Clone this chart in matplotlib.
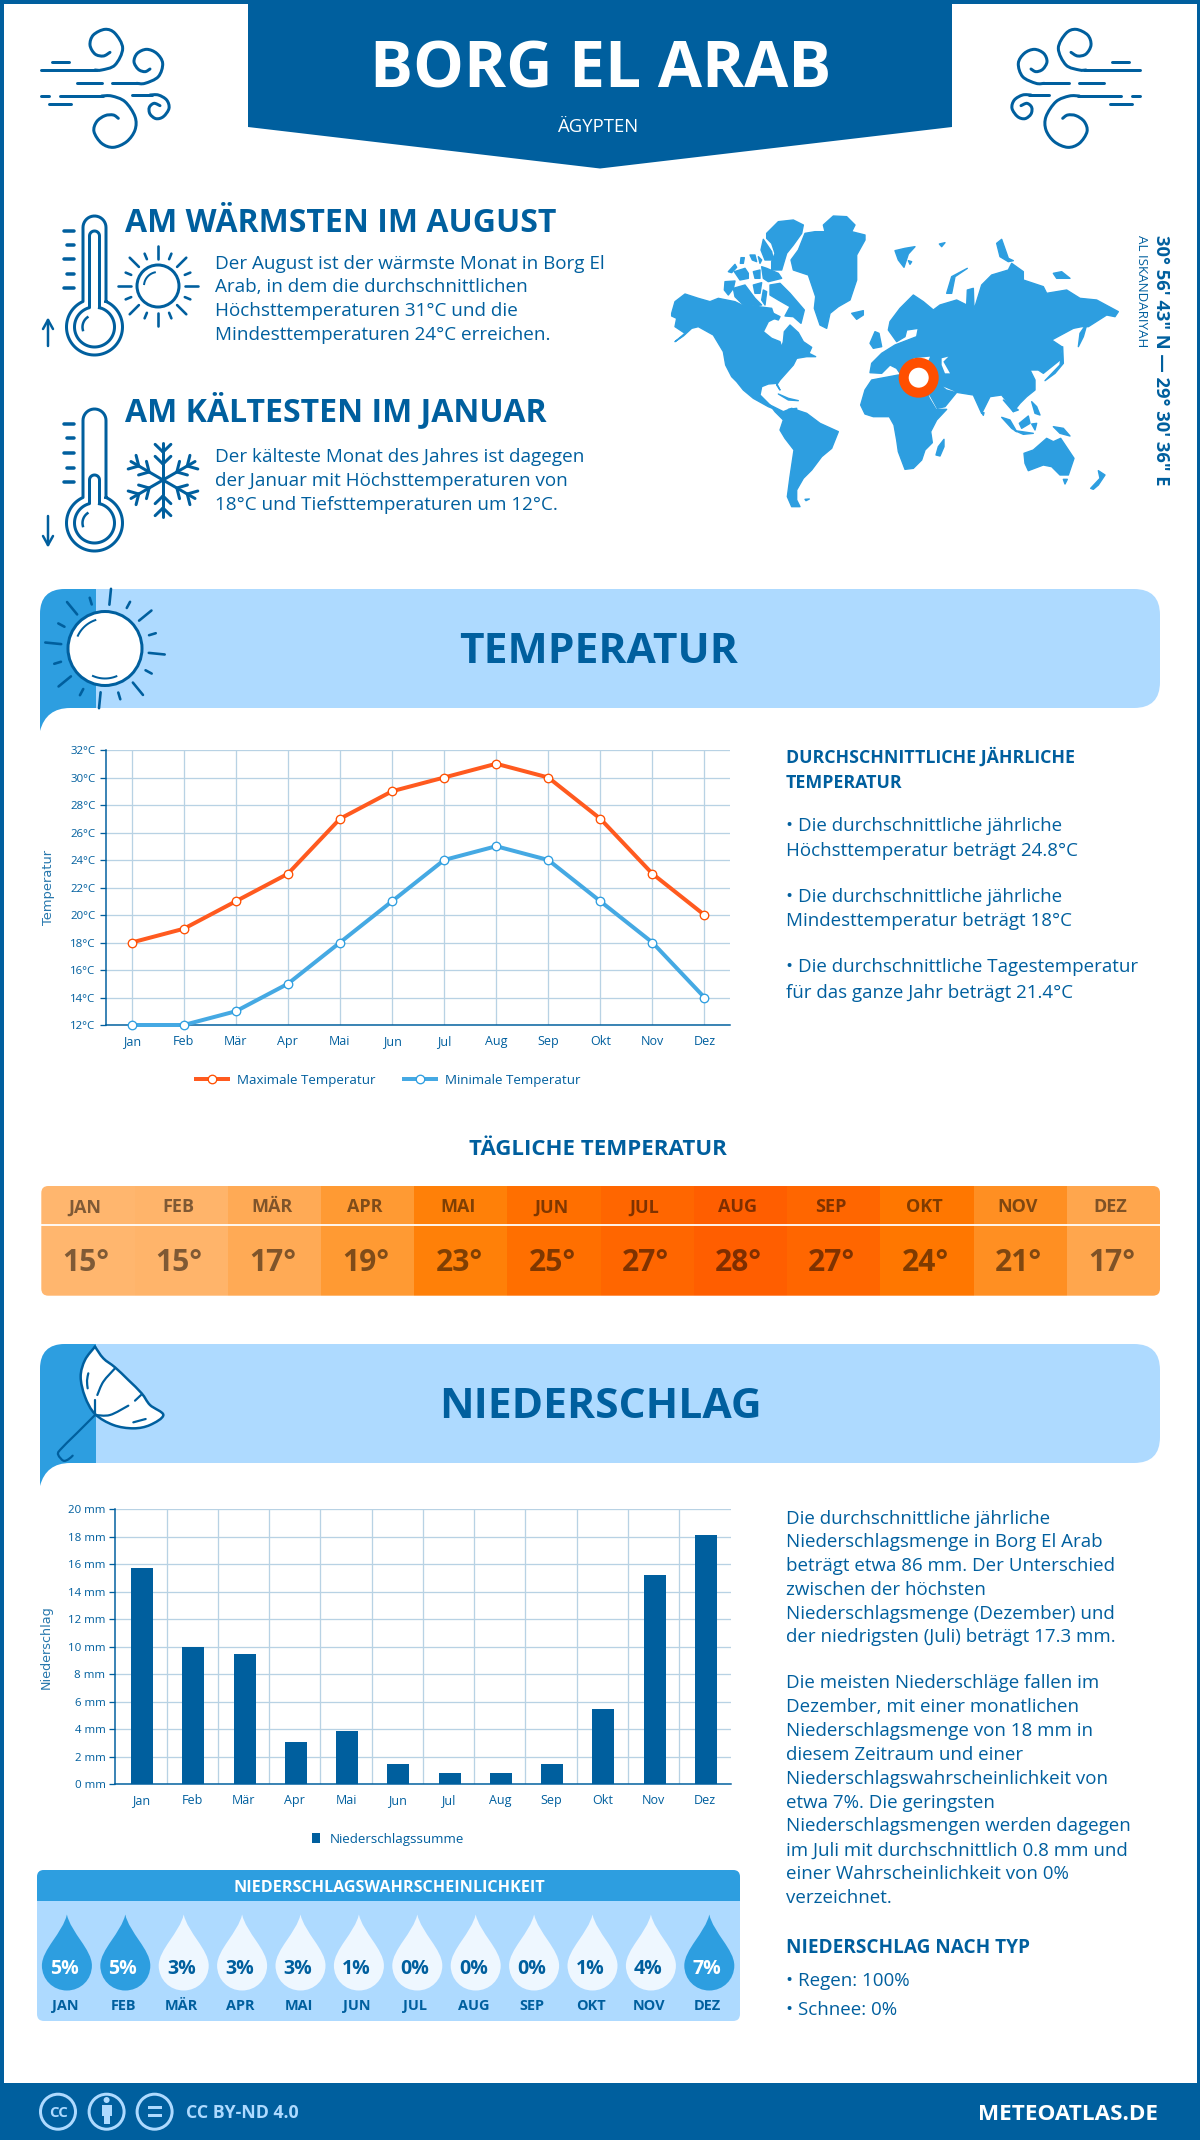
import numpy as np
import matplotlib
matplotlib.use('Agg')
import matplotlib.pyplot as plt
from matplotlib.patches import Circle, FancyBboxPatch, PathPatch, Polygon, Rectangle
from matplotlib.path import Path
from matplotlib.transforms import ScaledTranslation

plt.rcParams['font.family'] = ['Open Sans', 'DejaVu Sans']

# data
months = ['Jan', 'Feb', 'Mär', 'Apr', 'Mai', 'Jun', 'Jul', 'Aug', 'Sep', 'Okt', 'Nov', 'Dez']
months_upper = ['JAN', 'FEB', 'MÄR', 'APR', 'MAI', 'JUN', 'JUL', 'AUG', 'SEP', 'OKT', 'NOV', 'DEZ']
temp_max = [18, 19, 21, 23, 27, 29, 30, 31, 30, 27, 23, 20]
temp_min = [12, 12, 13, 15, 18, 21, 24, 25, 24, 21, 18, 14]
temp_daily = [15, 15, 17, 19, 23, 25, 27, 28, 27, 24, 21, 17]
temp_colors = ['#FFB66E', '#FFB46A', '#FFAA55', '#FF9A33', '#FF8008', '#FF6F00',
               '#FF6600', '#FF5E00', '#FF6600', '#FF7700', '#FF8F22', '#FFA64D']
rain = [15.7, 10.0, 9.5, 3.1, 3.9, 1.5, 0.8, 0.8, 1.5, 5.5, 15.2, 18.1]
rain_prob = [5, 5, 3, 3, 3, 1, 0, 0, 0, 1, 4, 7]

DARK = '#005F9E'
MID = '#2D9EE0'
LIGHT = '#AEDAFF'
GRID = '#B8D2E4'
ORANGE = '#FF4F00'


def fs(p):
    return p * 0.72


fig = plt.figure(figsize=(12, 21.4), dpi=100)
page = fig.add_axes([0, 0, 1, 1])
page.set_xlim(0, 1200)
page.set_ylim(2140, 0)
page.axis('off')


def inset(x0, y0, x1, y1):
    return fig.add_axes([x0 / 1200, 1 - y1 / 2140, (x1 - x0) / 1200, (y1 - y0) / 2140])


def txt(x, y, s, size, color=DARK, weight='normal', ha='left', va='center', **kw):
    return page.text(x, y, s, fontsize=fs(size), color=color, fontweight=weight, ha=ha, va=va, **kw)


def smooth(pts, lw=3, color=DARK, fill='none', z=3):
    # catmull-rom through the points
    pts = np.array(pts, float)
    p = np.vstack([pts[0], pts, pts[-1]])
    verts = [pts[0]]
    codes = [Path.MOVETO]
    for i in range(1, len(p) - 2):
        verts += [p[i] + (p[i + 1] - p[i - 1]) / 6, p[i + 1] - (p[i + 2] - p[i]) / 6, p[i + 1]]
        codes += [Path.CURVE4] * 3
    page.add_patch(PathPatch(Path(verts, codes), fc=fill, ec=color, lw=fs(lw), capstyle='round', zorder=z))


def line(x0, y0, x1, y1, lw=3, color=DARK, z=3):
    page.plot([x0, x1], [y0, y1], color=color, lw=fs(lw), solid_capstyle='round', zorder=z)


def shift_labels(axis, dx):
    for lab in axis.get_ticklabels():
        lab.set_transform(lab.get_transform() + ScaledTranslation(dx / 100, 0, fig.dpi_scale_trans))


# frame, header, footer
page.add_patch(Rectangle((0, 0), 1200, 2140, fc='none', ec=DARK, lw=fs(7)))
page.add_patch(Polygon([(248, 0), (952, 0), (952, 127), (600, 168.5), (248, 127)], fc=DARK, ec='none'))
page.add_patch(Rectangle((0, 2083), 1200, 57, fc=DARK, ec='none'))
txt(601, 88, 'BORG EL ARAB', 64, 'white', 'bold', ha='center', va='baseline')
txt(598, 132, 'ÄGYPTEN', 18.5, 'white', ha='center', va='baseline')

wind_curves = [
    [(195, 150), (215, 150), (255, 135), (278, 85), (255, 40), (225, 28), (190, 45), (180, 75), (195, 102), (220, 108), (240, 97)],
    [(320, 190), (345, 190), (385, 170), (398, 130), (380, 100), (350, 88), (322, 100), (312, 125), (325, 148), (345, 155), (360, 147)],
    [(215, 228), (245, 228), (285, 245), (315, 290), (315, 330), (290, 365), (250, 382), (215, 370), (192, 335), (200, 305), (225, 287), (250, 285), (265, 295)],
    [(360, 225), (385, 225), (410, 240), (417, 265), (400, 290), (378, 296), (360, 282), (358, 262), (372, 250), (390, 257)],
]
wind_lines = [(32, 150, 200, 150), (67, 125, 118, 125), (140, 190, 215, 190), (247, 190, 325, 190), (32, 228, 58, 228),
              (90, 228, 220, 228), (57, 253, 122, 253), (306, 225, 365, 225)]
for flip in (False, True):
    def fx(v):
        r = 30 + v / 3
        return 1181 - r if flip else r
    for c in wind_curves:
        smooth([(fx(a), 20 + b / 3) for a, b in c])
    for a, b, c, d in wind_lines:
        line(fx(a), 20 + b / 3, fx(c), 20 + d / 3)


# thermometers
def thermometer(top, cy, ticks, inner_top, arrow):
    for rad, half, t in [(28, 11.5, top), (20, 5, inner_top)]:
        a = np.arcsin(half / rad)
        th = np.linspace(np.pi / 2 - a, -3 * np.pi / 2 + a, 80)
        bx = 94.5 + rad * np.cos(th)
        by = cy - rad * np.sin(th)
        cap = np.linspace(np.pi, 0, 20)
        tx = 94.5 + half * np.cos(cap)
        ty = t + half - half * np.sin(cap)
        page.plot(np.r_[bx, tx, bx[0]], np.r_[by, ty, by[0]], color=DARK, lw=fs(3))
    a = np.linspace(2.2, 3.4, 15)
    page.plot(94.5 + 12 * np.cos(a), cy - 12 * np.sin(a), color=DARK, lw=fs(2.5))
    for i, y in enumerate(ticks):
        line(67 if i % 2 else 64, y, 74, y, 3.5)
    a0, a1 = arrow
    d = 6 if a1 < a0 else -6
    line(48, a0, 48, a1, 2.5)
    line(48, a1, 43, a1 + d * 1.5, 2.5)
    line(48, a1, 53, a1 + d * 1.5, 2.5)


thermometer(216, 327, [231, 245, 259, 273.5, 287.5], 231, (346, 320))
thermometer(409, 523, [423.5, 438, 453, 467.5, 482], 475, (516, 545))

# sun icon next to the first text
page.add_patch(Circle((158, 286), 21, fc='white', ec=DARK, lw=fs(3)))
a = np.linspace(1.8, 3.0, 15)
page.plot(158 + 14 * np.cos(a), 286 - 14 * np.sin(a), color=DARK, lw=fs(2))
for i, a in enumerate(np.linspace(0, 2 * np.pi, 16, endpoint=False)):
    r0, r1 = (27, 40) if i % 2 == 0 else (29, 35)
    line(158 + r0 * np.cos(a), 286 + r0 * np.sin(a), 158 + r1 * np.cos(a), 286 + r1 * np.sin(a), 2.6)

# snowflake
for a in np.radians([90, 30, 150, 210, 270, 330]):
    cx, cy = 163, 480
    ux, uy = np.cos(a), np.sin(a)
    line(cx, cy, cx + 37 * ux, cy + 37 * uy, 3)
    for d in (16, 28):
        for s in (0.8, -0.8):
            bx = ux * np.cos(s) - uy * np.sin(s)
            by = ux * np.sin(s) + uy * np.cos(s)
            line(cx + d * ux, cy + d * uy, cx + d * ux + 11 * bx, cy + d * uy + 11 * by, 3)

# top texts
txt(125, 232, 'AM WÄRMSTEN IM AUGUST', 32, DARK, 'bold', va='baseline')
for y, s in zip([264, 287.5, 311.5, 335.5],
                ['Der August ist der wärmste Monat in Borg El', 'Arab, in dem die durchschnittlichen',
                 'Höchsttemperaturen 31°C und die', 'Mindesttemperaturen 24°C erreichen.']):
    txt(215, y, s, 18.9)
txt(125, 421, 'AM KÄLTESTEN IM JANUAR', 32, DARK, 'bold', va='baseline')
for y, s in zip([457.5, 481.5, 505],
                ['Der kälteste Monat des Jahres ist dagegen', 'der Januar mit Höchsttemperaturen von',
                 '18°C und Tiefsttemperaturen um 12°C.']):
    txt(215, y, s, 18.9)

# world map, outlines traced by eye from 3x crops: (origin x, origin y, polygons)
map_north = (665, 210, [
    [(20, 310), (30, 275), (60, 252), (100, 265), (135, 275), (160, 265), (210, 275), (240, 290), (280, 290), (320, 295), (330, 325),
     (310, 335), (295, 365), (320, 385), (345, 395), (350, 412), (355, 395), (358, 365), (375, 345), (400, 368), (415, 395), (440, 412),
     (432, 430), (452, 440), (425, 440), (395, 445), (385, 465), (345, 510), (335, 525), (345, 540), (335, 520), (310, 522), (290, 530),
     (285, 555), (300, 570), (320, 590), (335, 600), (310, 590), (265, 565), (235, 540), (215, 515), (200, 500), (182, 465), (175, 425),
     (145, 375), (100, 350), (80, 355), (55, 378), (30, 395), (60, 370), (30, 350), (35, 325), (20, 318)],
    [(305, 70), (340, 35), (385, 30), (415, 45), (410, 70), (385, 105), (365, 130), (350, 180), (320, 180), (320, 155), (330, 130), (320, 100), (305, 85)],
    [(288, 120), (295, 88), (320, 125), (325, 150), (300, 150)],
    [(378, 150), (400, 120), (420, 70), (450, 65), (480, 65), (475, 45), (505, 18), (545, 20), (570, 45), (560, 65), (600, 75), (600, 90),
     (575, 135), (575, 210), (555, 270), (520, 290), (495, 310), (485, 355), (465, 345), (448, 295), (452, 260), (430, 195), (385, 180)],
    [(560, 310), (595, 302), (595, 315), (575, 328)],
    [(190, 185), (210, 163), (215, 172), (200, 188)],
    [(228, 143), (238, 143), (235, 160), (226, 160)],
    [(208, 185), (240, 175), (250, 190), (250, 205), (225, 210)],
    [(255, 135), (270, 135), (275, 155), (262, 150)],
    [(280, 140), (290, 150), (285, 160)],
    [(265, 185), (285, 180), (285, 205), (270, 205)],
    [(290, 170), (305, 175), (340, 190), (350, 205), (310, 215), (295, 205)],
    [(180, 215), (210, 213), (205, 235), (190, 255), (178, 240)],
    [(205, 235), (240, 225), (270, 265), (290, 285), (240, 290), (210, 260)],
    [(265, 225), (290, 218), (285, 250), (270, 250)],
    [(295, 240), (305, 245), (300, 285), (290, 270)],
    [(315, 225), (345, 220), (375, 250), (418, 300), (408, 340), (385, 320), (360, 318), (375, 290), (340, 270), (315, 255)],
    [(325, 310), (345, 320), (340, 330), (325, 325)],
    [(340, 552), (370, 565), (400, 572), (370, 570)],
    [(370, 598), (395, 595), (395, 600)],
    [(615, 400), (630, 365), (642, 370), (650, 410), (625, 415)],
])
map_asia = (880, 230, [
    [(-25, 400), (5, 370), (45, 345), (110, 320), (115, 295), (80, 300), (75, 320), (50, 335), (25, 300), (30, 275), (60, 235), (100, 195),
     (130, 215), (160, 240), (180, 225), (230, 210), (260, 225), (262, 180), (280, 175), (282, 240), (305, 165), (335, 135), (385, 120),
     (395, 100), (430, 125), (430, 150), (490, 170), (500, 190), (560, 180), (600, 205), (650, 210), (715, 245), (705, 260), (680, 255),
     (625, 290), (605, 290), (580, 295), (515, 330), (545, 350), (540, 390), (490, 430), (475, 420), (450, 420), (465, 450), (465, 480),
     (440, 500), (420, 520), (400, 545), (385, 520), (365, 495), (330, 500), (305, 550), (280, 495), (230, 487), (195, 530), (172, 535),
     (150, 495), (90, 475), (50, 415), (30, 405), (5, 430), (-30, 428)],
    [(45, 62), (75, 55), (105, 50), (85, 72), (72, 112), (55, 90)],
    [(85, 92), (95, 95), (90, 103)],
    [(178, 42), (195, 38), (185, 50)],
    [(200, 190), (215, 140), (262, 115), (225, 140), (215, 190)],
    [(350, 40), (365, 28), (385, 85), (400, 92), (385, 95), (360, 80)],
    [(595, 350), (600, 310), (622, 278), (610, 320)],
    [(495, 452), (540, 405), (548, 350), (550, 400), (525, 430)],
    [(520, 130), (545, 125), (570, 145), (530, 145)],
    [(305, 548), (312, 548), (310, 556)],
])
map_south = (770, 400, [
    [(272, 15), (285, -30), (305, -60), (385, -75), (450, -75), (478, -5), (498, 28), (530, 28), (500, 60), (482, 95), (487, 128), (465, 150),
     (455, 180), (430, 205), (405, 208), (385, 155), (380, 120), (372, 75), (358, 50), (310, 50), (285, 42)],
    [(498, 165), (505, 140), (522, 118), (522, 140), (510, 168)],
    [(0, 15), (40, 35), (65, 25), (110, 40), (150, 70), (205, 95), (185, 145), (155, 170), (125, 210), (100, 235), (80, 270), (80, 300),
     (90, 320), (65, 320), (52, 290), (60, 230), (72, 150), (45, 115), (30, 90), (40, 60), (15, 35)],
    [(105, 298), (118, 297), (108, 302)],
    [(700, 0), (745, 30), (730, 35)],
    [(695, 52), (720, 60), (740, 95), (725, 85)],
    [(735, 92), (790, 100), (760, 103)],
    [(748, 70), (775, 48), (780, 70), (755, 85)],
    [(785, 72), (800, 70), (795, 90)],
    [(850, 80), (880, 85), (900, 108), (870, 100)],
    [(785, 5), (800, 20), (810, 45), (795, 40)],
    [(762, 160), (790, 150), (830, 115), (850, 125), (872, 115), (912, 175), (895, 225), (870, 225), (845, 200), (820, 195), (775, 212), (765, 190)],
    [(880, 238), (892, 238), (885, 252)],
    [(962, 265), (990, 235), (985, 212), (1005, 225), (985, 255), (970, 268)],
])
for ox, oy, polys in (map_north, map_asia, map_south):
    for poly in polys:
        page.add_patch(Polygon([(ox + a / 3, oy + b / 3) for a, b in poly], fc=MID, ec=MID, lw=1, joinstyle='round', zorder=1))
# inland seas
for poly in [[(185, 385), (205, 380), (190, 395), (210, 430), (195, 430), (185, 405)], [(190, 470), (225, 485), (200, 478)],
             [(100, 385), (150, 380), (145, 392), (110, 395)]]:
    page.add_patch(Polygon([(880 + a / 3, 230 + b / 3) for a, b in poly], fc='white', ec='none', zorder=1.5))
page.add_patch(Circle((918.7, 377.7), 15, fc='white', ec=ORANGE, lw=fs(10), zorder=2))
txt(1161, 360, '30° 56\' 43" N — 29° 30\' 36" E', 18.4, DARK, 'bold', ha='center', rotation=-90)
txt(1142, 291.5, 'AL ISKANDARIYAH', 13.4, ha='center', rotation=-90)


# section banners
def banner(y0, y1, title, tx, base):
    page.add_patch(FancyBboxPatch((40, y0), 1120, y1 - y0, boxstyle='round,pad=0,rounding_size=26', fc=LIGHT, ec='none'))
    v = [(40, y1 + 23), (40, y0 + 25), (40, y0), (65, y0), (96, y0), (96, y1), (70, y1), (46, y1), (40, y1 + 23)]
    c = [Path.MOVETO, Path.LINETO, Path.CURVE3, Path.CURVE3, Path.LINETO, Path.LINETO, Path.LINETO, Path.CURVE3, Path.CURVE3]
    page.add_patch(PathPatch(Path(v, c), fc=MID, ec='none'))
    txt(tx, base, title, 42.5, DARK, 'bold', ha='center', va='baseline')


banner(589, 708, 'TEMPERATUR', 598.5, 663)
banner(1344, 1463, 'NIEDERSCHLAG', 600, 1418.5)

# big sun
page.add_patch(Circle((105, 648.5), 37, fc='white', ec=DARK, lw=fs(3), zorder=3))
for a in (np.linspace(1.9, 2.7, 15), np.linspace(4.3, 5.1, 15)):
    page.plot(105 + 30 * np.cos(a), 648.5 - 30 * np.sin(a), color=DARK, lw=fs(2), zorder=4)
for i, a in enumerate(np.linspace(0.1, 2 * np.pi + 0.1, 16, endpoint=False)):
    r0, r1 = (44, 60) if i % 2 == 0 else (46, 53)
    line(105 + r0 * np.cos(a), 648.5 + r0 * np.sin(a), 105 + r1 * np.cos(a), 648.5 + r1 * np.sin(a), 2.6)


def um(pts):
    return [(40 + a / 3, 1340 + b / 3) for a, b in pts]


canopy = [(165, 20), (190, 55), (225, 82), (265, 120), (305, 160), (330, 195), (370, 225), (330, 255), (280, 265), (220, 255), (165, 222),
          (135, 170), (122, 110), (135, 60), (165, 20)]
smooth(um(canopy), 2.5, fill='white')
smooth(um([(225, 85), (190, 125), (172, 165)]), 2.2)
smooth(um([(165, 180), (165, 222)]), 2.2)
smooth(um([(145, 100), (141, 122), (143, 145)]), 2.2)
smooth(um([(165, 225), (210, 225), (265, 197)]), 2.2)
smooth(um([(285, 182), (303, 165)]), 2.2)
smooth(um([(280, 247), (317, 237)]), 2.2)
smooth(um([(165, 225), (110, 280), (60, 330), (55, 345), (70, 362), (85, 358), (98, 347)]), 2.2)

# temperature chart
ax = inset(105.7, 750, 730.5, 1025)
x = np.arange(12)
ax.plot(x, temp_max, color='#FF5A1F', lw=fs(4), marker='o', ms=fs(8.5), mfc='white', mec='#FF4F00', mew=fs(1.3),
        clip_on=False, zorder=5, label='Maximale Temperatur')
ax.plot(x, temp_min, color='#45A9E3', lw=fs(4), marker='o', ms=fs(8.5), mfc='white', mec='#2D9EE0', mew=fs(1.3),
        clip_on=False, zorder=5, label='Minimale Temperatur')
ax.set_xlim(-0.5, 11.5)
ax.set_ylim(12, 32)
ax.set_yticks(np.arange(12, 33, 2))
ax.set_yticklabels([f'{v}°C' for v in range(12, 33, 2)], fontsize=fs(11.5), color=DARK)
ax.set_xticks(x)
ax.set_xticklabels(months, fontsize=fs(12.5), color=DARK)
shift_labels(ax.xaxis, -2.6)
ax.grid(color=GRID, lw=fs(1.3))
ax.set_axisbelow(True)
ax.tick_params(axis='y', length=fs(6), width=fs(1.3), color=DARK, pad=fs(4))
ax.tick_params(axis='x', length=0, pad=fs(10))
for s in ['top', 'right']:
    ax.spines[s].set_visible(False)
for s in ['left', 'bottom']:
    ax.spines[s].set_color(DARK)
    ax.spines[s].set_linewidth(fs(1.5))
ax.set_ylabel('Temperatur', fontsize=fs(13), color=DARK, family='DejaVu Sans', labelpad=fs(15), alpha=0.85)
ax.legend(loc='center', bbox_to_anchor=(0.452, -0.2), ncol=2, frameon=False, fontsize=fs(13.4), labelcolor=DARK,
          handlelength=2.4, columnspacing=2.1, handletextpad=0.65)

# text right of the temperature chart
txt(786, 762.5, 'DURCHSCHNITTLICHE JÄHRLICHE', 17.7, DARK, 'bold', va='baseline')
txt(786, 787.5, 'TEMPERATUR', 17.7, DARK, 'bold', va='baseline')
for y, s in zip([826, 850.5, 896.5, 921.5, 967.5, 992.5],
                ['• Die durchschnittliche jährliche', 'Höchsttemperatur beträgt 24.8°C',
                 '• Die durchschnittliche jährliche', 'Mindesttemperatur beträgt 18°C',
                 '• Die durchschnittliche Tagestemperatur', 'für das ganze Jahr beträgt 21.4°C']):
    txt(786, y, s, 18.75)

# daily temperature strip
txt(598, 1155, 'TÄGLICHE TEMPERATUR', 22.3, DARK, 'bold', ha='center', va='baseline')
strip = inset(41.3, 1186, 1160, 1295.7)
strip.set_xlim(-0.5, 11.5)
strip.set_ylim(0, 1)
strip.axis('off')
clip = FancyBboxPatch((41.3, 1186), 1118.7, 109.7, boxstyle='round,pad=0,rounding_size=7', fc='none', ec='none',
                      transform=page.transData)
page.add_patch(clip)
for b in strip.bar(x, [1] * 12, width=1.0, color=temp_colors, align='center'):
    b.set_clip_path(clip)
strip.axhline(0.645, color='white', lw=fs(1.8))
for i in x:
    strip.text(i - 0.03, 0.805, months_upper[i], fontsize=fs(18), fontweight='bold', color='black', alpha=0.5, ha='center', va='center')
    strip.text(i - 0.02, 0.30, f'{temp_daily[i]}°', fontsize=fs(30), fontweight='bold', color='black', alpha=0.5, ha='center', va='center')

# rain chart
ax2 = inset(115.4, 1509.3, 730.5, 1784.3)
ax2.bar(x + 0.02, rain, width=0.43, color=DARK, zorder=4)
ax2.set_xlim(-0.5, 11.5)
ax2.set_ylim(0, 20)
ax2.set_yticks(np.arange(0, 21, 2))
ax2.set_yticklabels([f'{v} mm' for v in range(0, 21, 2)], fontsize=fs(11.5), color=DARK)
ax2.set_xticks(x)
ax2.set_xticklabels(months, fontsize=fs(12.5), color=DARK)
shift_labels(ax2.xaxis, -2)
ax2.set_xticks(np.arange(0.5, 11.5), minor=True)
ax2.grid(axis='y', color=GRID, lw=fs(1.3))
ax2.grid(axis='x', which='minor', color=GRID, lw=fs(1.3))
ax2.set_axisbelow(True)
ax2.tick_params(axis='y', length=fs(6), width=fs(1.3), color=DARK, pad=fs(4))
ax2.tick_params(axis='x', which='both', length=0, pad=fs(10))
for s in ['top', 'right']:
    ax2.spines[s].set_visible(False)
for s in ['left', 'bottom']:
    ax2.spines[s].set_color(DARK)
    ax2.spines[s].set_linewidth(fs(1.5))
ax2.set_ylabel('Niederschlag', fontsize=fs(12.7), color=DARK, family='DejaVu Sans', labelpad=fs(15), alpha=0.85)
handles = [Rectangle((0, 0), 1, 1, fc=DARK)]
ax2.legend(handles, ['Niederschlagssumme'], loc='center', bbox_to_anchor=(0.443, -0.2), frameon=False, fontsize=fs(13.4),
           labelcolor=DARK, handlelength=0.6, handleheight=0.8, handletextpad=0.7)

# text right of the rain chart
para = ['Die durchschnittliche jährliche', 'Niederschlagsmenge in Borg El Arab', 'beträgt etwa 86 mm. Der Unterschied',
        'zwischen der höchsten', 'Niederschlagsmenge (Dezember) und', 'der niedrigsten (Juli) beträgt 17.3 mm.']
for i, s in enumerate(para):
    txt(786, 1518.5 + i * 23.8, s, 18.75)
para = ['Die meisten Niederschläge fallen im', 'Dezember, mit einer monatlichen', 'Niederschlagsmenge von 18 mm in',
        'diesem Zeitraum und einer', 'Niederschlagswahrscheinlichkeit von', 'etwa 7%. Die geringsten',
        'Niederschlagsmengen werden dagegen', 'im Juli mit durchschnittlich 0.8 mm und', 'einer Wahrscheinlichkeit von 0%',
        'verzeichnet.']
for i, s in enumerate(para):
    txt(786, 1683 + i * 23.9, s, 18.75)
txt(786, 1953, 'NIEDERSCHLAG NACH TYP', 19, DARK, 'bold', va='baseline')
txt(786, 1981.5, '• Regen: 100%', 18.75)
txt(786, 2010, '• Schnee: 0%', 18.75)

# probability panel
page.add_patch(FancyBboxPatch((37, 1870), 703, 151, boxstyle='round,pad=0,rounding_size=7', fc=LIGHT, ec='none'))
page.add_patch(FancyBboxPatch((37, 1870), 703, 60, boxstyle='round,pad=0,rounding_size=7', fc=MID, ec='none'))
page.add_patch(Rectangle((37, 1901), 703, 32, fc=LIGHT, ec='none'))
txt(389, 1892.5, 'NIEDERSCHLAGSWAHRSCHEINLICHKEIT', 16.1, 'white', 'bold', ha='center', va='baseline')
for i, p in enumerate(rain_prob):
    cx = 66.9 + i * 58.4
    cy = 1965.5
    v = [(0, -51), (4, -33), (25, -16), (25, 0), (25, 14), (14, 25), (0, 25), (-14, 25), (-25, 14), (-25, 0), (-25, -16), (-4, -33), (0, -51)]
    page.add_patch(PathPatch(Path([(cx + a, cy + b) for a, b in v], [Path.MOVETO] + [Path.CURVE4] * 12),
                             fc=MID if p >= 5 else '#EEF7FF', ec='none', zorder=2))
    txt(cx - 2.5, 1974, f'{p}%', 19.5, 'white' if p >= 5 else DARK, 'bold', ha='center', va='baseline', zorder=3)
    txt(cx - 2, 2010, months_upper[i], 14.5, DARK, 'bold', ha='center', va='baseline')

# footer
for cx in (58, 106.6, 154.6):
    page.add_patch(Circle((cx, 2111.7), 17.5, fc='none', ec=LIGHT, lw=fs(3), zorder=3))
txt(58, 2117, 'CC', 15, LIGHT, 'bold', ha='center', va='baseline', zorder=4)
page.add_patch(Circle((106.6, 2100), 3, fc=LIGHT, ec='none', zorder=4))
page.add_patch(Rectangle((101.5, 2104.5), 10, 11, fc=LIGHT, ec='none', zorder=4))
page.add_patch(Rectangle((103.5, 2115), 6, 9, fc=LIGHT, ec='none', zorder=4))
page.add_patch(Rectangle((147.5, 2105.5), 14, 3.5, fc=LIGHT, ec='none', zorder=4))
page.add_patch(Rectangle((147.5, 2113.5), 14, 3.5, fc=LIGHT, ec='none', zorder=4))
txt(185.6, 2118, 'CC BY-ND 4.0', 17.8, LIGHT, 'bold', va='baseline')
txt(1158, 2120, 'METEOATLAS.DE', 22.5, 'white', 'bold', ha='right', va='baseline')

fig.savefig('out.png', dpi=100)
